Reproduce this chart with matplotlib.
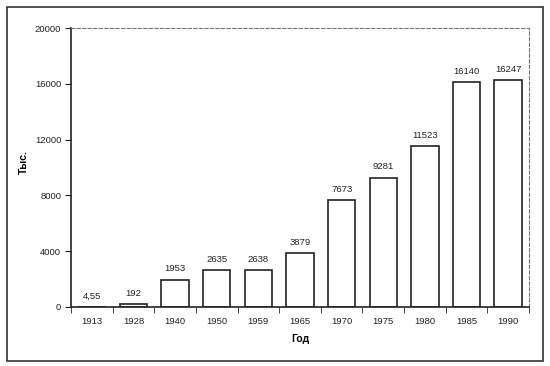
import matplotlib.pyplot as plt
from matplotlib.patches import Rectangle
import numpy as np

plt.rcParams['font.family'] = ['Liberation Sans', 'DejaVu Sans']

# Data
years = ['1913', '1928', '1940', '1950', '1959', '1965', '1970', '1975', '1980', '1985', '1990']
values = [4.55, 192, 1953, 2635, 2638, 3879, 7673, 9281, 11523, 16140, 16247]
labels = ['4,55', '192', '1953', '2635', '2638', '3879', '7673', '9281', '11523', '16140', '16247']

fig = plt.figure(figsize=(5.5, 3.66), dpi=100)
ax = fig.add_axes([71 / 550, 1 - 307 / 366, 458 / 550, 279 / 366])

x = np.arange(len(years))
ax.bar(x, values, width=0.66, color='white', edgecolor='#222222', linewidth=1.2)
for xi, v, lab in zip(x, values, labels):
    ax.text(xi, v + 450, lab, ha='center', va='bottom', fontsize=6.8, color='#222222')

ax.set_xlim(-0.5, len(years) - 0.5)
ax.set_ylim(0, 20000)
ax.set_yticks([0, 4000, 8000, 12000, 16000, 20000])
ax.tick_params(axis='y', labelsize=6.8, direction='out', length=4, pad=3, colors='#222222')
ax.set_xticks(x)
ax.set_xticklabels(years)
ax.set_xticks(np.arange(-0.5, len(years)), minor=True)
ax.tick_params(axis='x', which='major', length=0, labelsize=6.8, pad=7, colors='#222222')
ax.tick_params(axis='x', which='minor', length=4, direction='out', color='#222222')

ax.set_xlabel('Год', fontsize=7.5, fontweight='bold')
ax.xaxis.set_label_coords(0.5, -0.095)
ax.set_ylabel('Тыс.', fontsize=7.5, fontweight='bold')
ax.yaxis.set_label_coords(-0.092, 0.52)

for side in ['left', 'bottom']:
    ax.spines[side].set_linewidth(1.2)
    ax.spines[side].set_color('#222222')
for side in ['top', 'right']:
    ax.spines[side].set_linestyle((0, (3, 2)))
    ax.spines[side].set_color('#777777')
    ax.spines[side].set_linewidth(0.8)

# outer frame
fig.patches.append(Rectangle((7 / 550, 1 - 361 / 366), 536 / 550, 354 / 366,
                             transform=fig.transFigure, fill=False,
                             edgecolor='#333333', linewidth=1.2))

fig.savefig('out.png', dpi=100)
